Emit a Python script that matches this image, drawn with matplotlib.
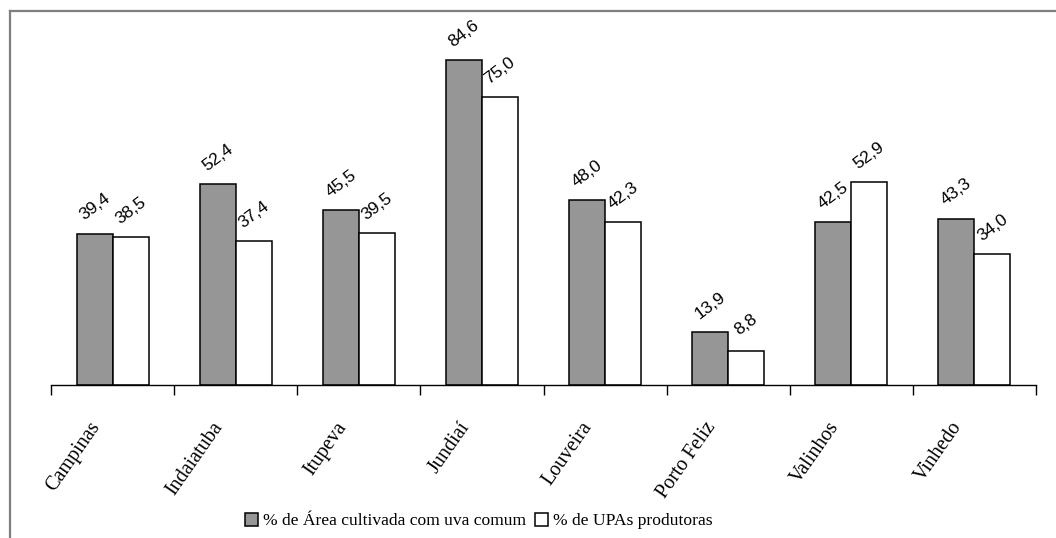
import matplotlib.pyplot as plt
import numpy as np
from matplotlib.lines import Line2D
from matplotlib.transforms import offset_copy

municipios = ['Campinas', 'Indaiatuba', 'Itupeva', 'Jundiaí', 'Louveira',
              'Porto Feliz', 'Valinhos', 'Vinhedo']
area_uva_comum = [39.4, 52.4, 45.5, 84.6, 48.0, 13.9, 42.5, 43.3]
upas_produtoras = [38.5, 37.4, 39.5, 75.0, 42.3, 8.8, 52.9, 34.0]
serie_nomes = ['% de Área cultivada com uva comum', '% de UPAs produtoras']

W, H = 1056, 538
fig = plt.figure(figsize=(W / 100, H / 100), dpi=100)
ax = fig.add_axes([51 / W, (H - 385) / H, (1036 - 51) / W, 346 / H])

x = np.arange(len(municipios))
w = 0.292
b1 = ax.bar(x - w / 2, area_uva_comum, w, color='#969696', edgecolor='black', linewidth=1.1)
b2 = ax.bar(x + w / 2, upas_produtoras, w, color='white', edgecolor='black', linewidth=1.1)

ax.set_xlim(-0.5, len(municipios) - 0.5)
ax.set_ylim(0, 90)

for bars, vals in ((b1, area_uva_comum), (b2, upas_produtoras)):
    for r, v in zip(bars, vals):
        ax.annotate(f'{v:.1f}'.replace('.', ','),
                    (r.get_x() + r.get_width() / 2, r.get_height()),
                    xytext=(0, 19), textcoords='offset points',
                    ha='center', va='center', rotation=37,
                    fontsize=12.5, family='Liberation Sans')

for s in ['top', 'right', 'left']:
    ax.spines[s].set_visible(False)
ax.spines['bottom'].set_linewidth(1.0)
ax.set_yticks([])

# ticks between categories
ax.set_xticks(np.arange(-0.5, len(municipios), 1.0))
ax.set_xticklabels([])
ax.tick_params(axis='x', length=7, width=1.0, direction='out')

lab_tr = offset_copy(ax.get_xaxis_transform(), fig=fig, x=-6, y=-24, units='points')
for i, nome in enumerate(municipios):
    ax.text(i, 0, nome, transform=lab_tr, rotation=55, ha='right', va='top',
            fontsize=14.5, family='Liberation Serif')

leg = fig.legend([b1, b2], serie_nomes, loc='center', ncol=2,
                 bbox_to_anchor=(479 / W, 1 - 521 / H), frameon=False,
                 handlelength=0.75, handleheight=0.75, handletextpad=0.3,
                 columnspacing=0.5, prop={'family': 'Liberation Serif', 'size': 12.6})

# figure border (top and left visible)
fig.add_artist(Line2D([10 / W, 1], [1 - 11 / H, 1 - 11 / H], color='#7f7f7f', lw=1.6,
                      transform=fig.transFigure))
fig.add_artist(Line2D([10 / W, 10 / W], [0, 1 - 11 / H], color='#7f7f7f', lw=1.6,
                      transform=fig.transFigure))

fig.savefig('out.png', dpi=100)
